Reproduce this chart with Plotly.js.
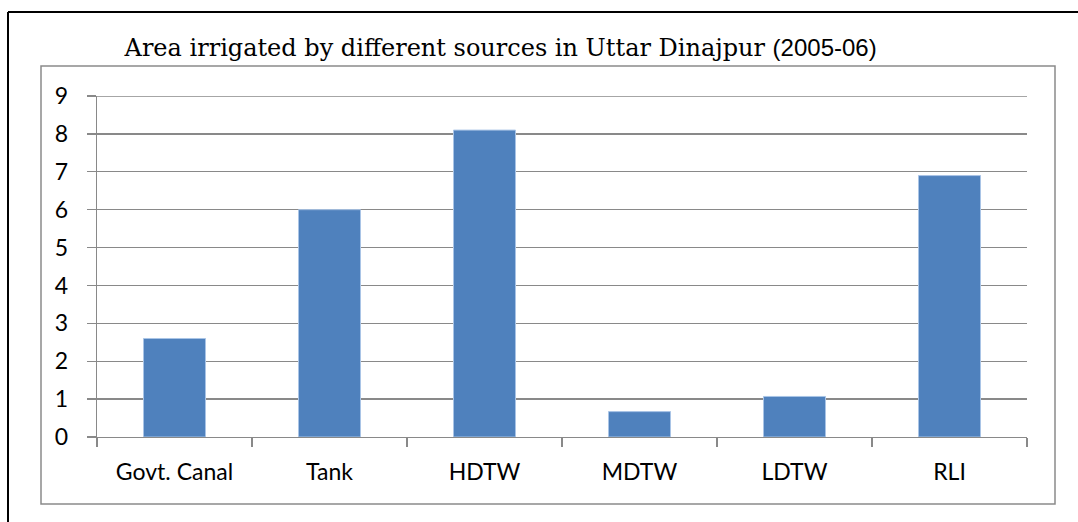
<!DOCTYPE html>
<html>
<head>
<meta charset="utf-8">
<script src="https://cdn.plot.ly/plotly-3.0.1.min.js"></script>
<style>html,body{margin:0;padding:0;background:#fff;}#chart{width:1078px;height:522px;}</style>
</head>
<body>
<div id="chart"></div>
<script>
var categories = ["Govt. Canal", "Tank", "HDTW", "MDTW", "LDTW", "RLI"];
var values = [2.6, 6.0, 8.1, 0.67, 1.07, 6.9];
var yTicks = [0, 1, 2, 3, 4, 5, 6, 7, 8, 9];
var titleText = 'Area irrigated by different sources in Uttar Dinajpur <span style="font-family:\'Liberation Sans\', Arial, sans-serif">(2005-06)</span>';

var gray = '#898989';
var trace = {
  type: 'bar',
  x: categories,
  y: values,
  width: 0.4,
  marker: {color: '#4F81BD', line: {color: '#A9C4E6', width: 1}},
  hoverinfo: 'x+y'
};

var layout = {
  width: 1078,
  height: 522,
  margin: {l: 97, r: 51, t: 96, b: 85},
  paper_bgcolor: '#ffffff',
  plot_bgcolor: '#ffffff',
  showlegend: false,
  title: {
    text: titleText,
    font: {family: '"DejaVu Serif", "Liberation Serif", serif', size: 24, color: '#000'},
    x: 0.434, xanchor: 'center', xref: 'paper',
    y: 48, yref: 'container', yanchor: 'middle'
  },
  xaxis: {
    type: 'category',
    range: [-0.5, 5.5],
    showline: true, linecolor: gray, linewidth: 1.3,
    ticks: 'outside', tickson: 'boundaries', ticklen: 9, tickcolor: gray, tickwidth: 1.3,
    showgrid: false,
    tickfont: {family: 'Lato, "Noto Sans", sans-serif', size: 23, color: '#000'},
    ticklabelstandoff: 14,
    fixedrange: true
  },
  yaxis: {
    range: [0, 9],
    tickvals: yTicks,
    ticktext: yTicks.map(String),
    showline: true, linecolor: gray, linewidth: 1.3,
    ticks: 'outside', ticklen: 9, tickcolor: gray, tickwidth: 1.3,
    showgrid: true, gridcolor: gray, gridwidth: 1.3,
    zeroline: false,
    tickfont: {family: 'Lato, "Noto Sans", sans-serif', size: 23, color: '#000'},
    ticklabelstandoff: 14,
    fixedrange: true
  },
  shapes: [
    {type: 'line', xref: 'paper', yref: 'y', layer: 'below',
     x0: 0, x1: 1, y0: yTicks[yTicks.length - 1], y1: yTicks[yTicks.length - 1],
     line: {color: gray, width: 1.3}},
    {type: 'rect', xref: 'paper', yref: 'paper', layer: 'below',
     x0: -56/930, x1: (1055-97)/930, y0: -(504-437)/341, y1: (437-66)/341,
     line: {color: '#8a8a8a', width: 1.5}, fillcolor: 'rgba(0,0,0,0)'},
    {type: 'line', xref: 'paper', yref: 'paper',
     x0: -89/930, x1: 1.2, y0: (437-12)/341, y1: (437-12)/341,
     line: {color: '#000', width: 2}},
    {type: 'line', xref: 'paper', yref: 'paper',
     x0: -89/930, x1: -89/930, y0: (437-12)/341, y1: -0.3,
     line: {color: '#000', width: 2}}
  ]
};

Plotly.newPlot('chart', [trace], layout, {displayModeBar: false, staticPlot: true});
</script>
</body>
</html>
